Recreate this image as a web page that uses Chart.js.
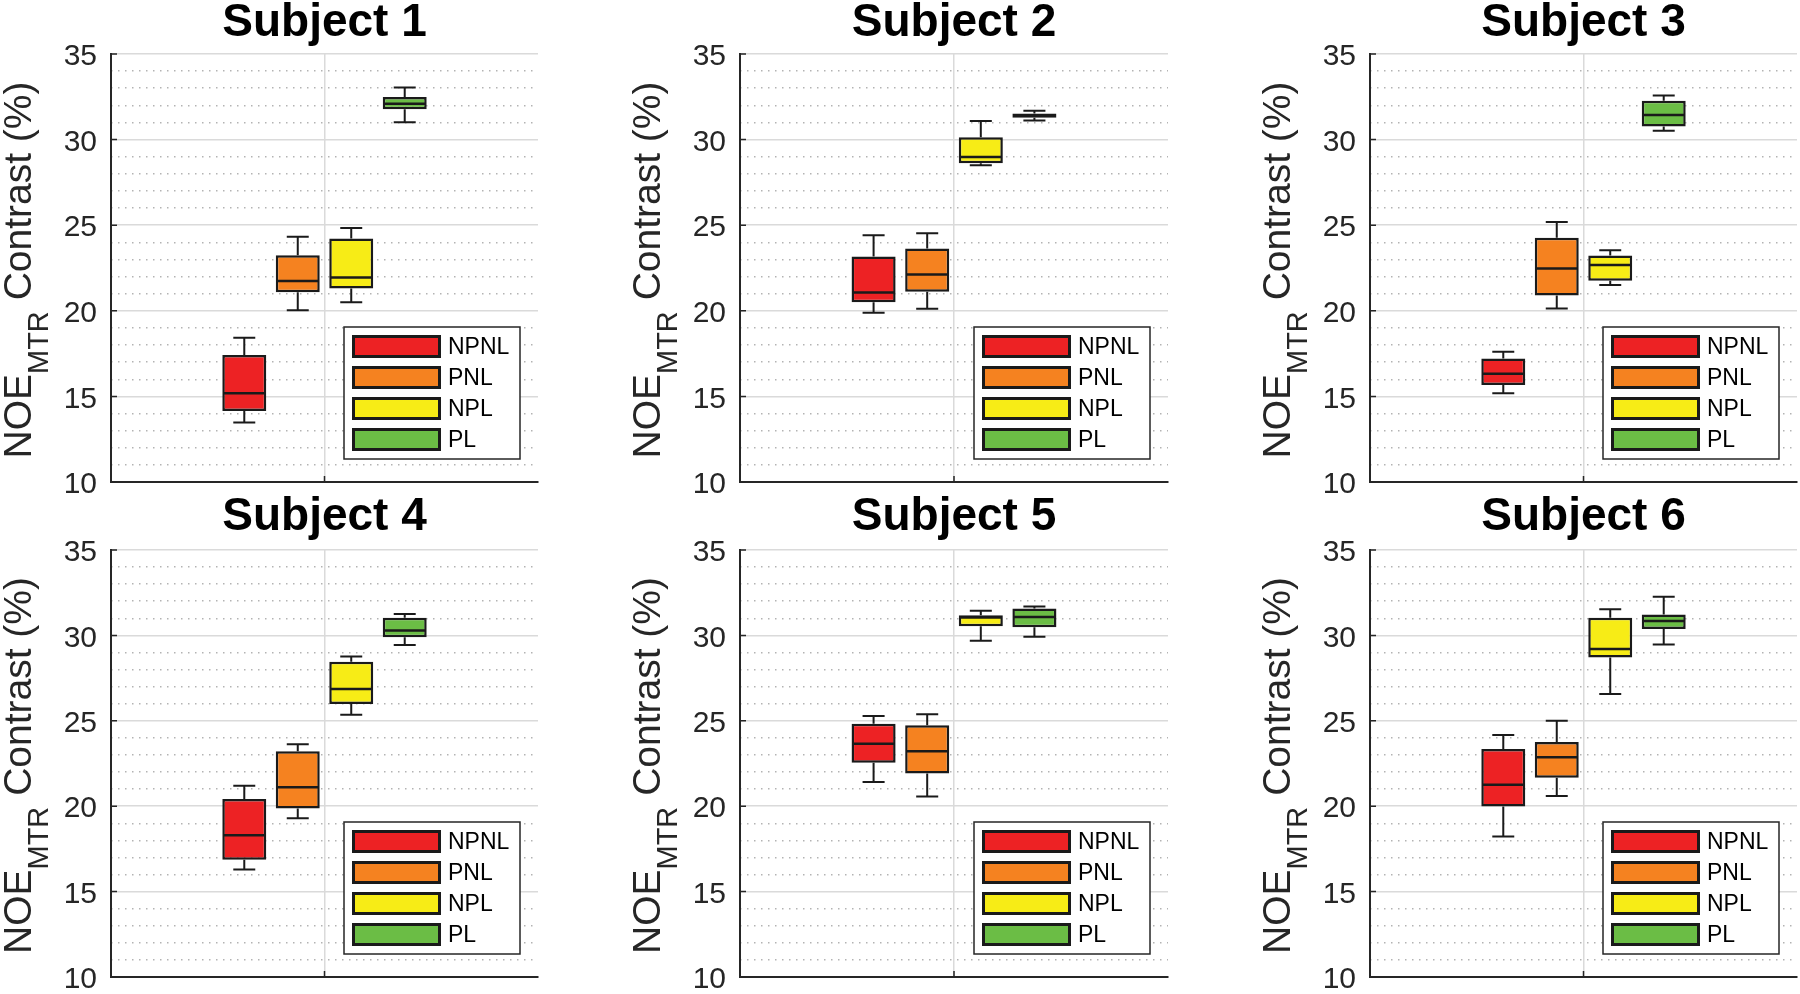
<!DOCTYPE html>
<html><head><meta charset="utf-8">
<script src="https://cdn.jsdelivr.net/npm/chart.js@4.4.1/dist/chart.umd.min.js"></script>
<style>
html,body{margin:0;padding:0;background:#fff;}
#wrap{position:relative;width:1800px;height:994px;overflow:hidden;background:#fff;}
#wrap canvas{position:absolute;}
</style></head><body><div id="wrap"></div>
<script>
// ---------------- data ----------------
const subjects = ['Subject 1', 'Subject 2', 'Subject 3', 'Subject 4', 'Subject 5', 'Subject 6'];
const groups = ['NPNL', 'PNL', 'NPL', 'PL'];
const yMin = 10, yMax = 35, yMajorStep = 5, yMinorStep = 1;
const yTitleMain = 'NOE';
const yTitleSub = 'MTR';
const yTitleRest = ' Contrast (%)';
// rows = subjects, columns = groups (NPNL, PNL, NPL, PL)
const whiskerLow = [
  [13.48, 20.03, 20.50, 31.02],
  [19.88, 20.12, 28.50, 31.11],
  [15.18, 20.13, 21.51, 30.52],
  [16.29, 19.29, 25.36, 29.44],
  [21.41, 20.57, 29.68, 29.92],
  [18.22, 20.60, 26.57, 29.46]
];
const quartile1 = [
  [14.14, 21.08, 21.30, 31.78],
  [20.50, 21.11, 28.62, 31.28],
  [15.67, 20.89, 21.75, 30.77],
  [16.87, 19.86, 25.99, 29.89],
  [22.54, 21.91, 30.54, 30.48],
  [19.98, 21.67, 28.70, 30.38]
];
const medians = [
  [15.18, 21.74, 21.94, 32.10],
  [21.07, 22.12, 28.99, 31.40],
  [16.33, 22.47, 22.68, 31.43],
  [18.30, 21.11, 26.86, 30.28],
  [23.65, 23.22, 31.05, 31.07],
  [21.26, 22.86, 29.20, 30.84]
];
const quartile3 = [
  [17.42, 23.25, 24.22, 32.49],
  [23.17, 23.64, 30.14, 31.52],
  [17.22, 24.26, 23.23, 32.27],
  [20.42, 23.21, 28.45, 31.04],
  [24.83, 24.74, 31.18, 31.57],
  [23.35, 23.76, 31.04, 31.23]
];
const whiskerHigh = [
  [18.43, 24.32, 24.84, 33.05],
  [24.42, 24.53, 31.09, 31.69],
  [17.61, 25.19, 23.54, 32.58],
  [21.20, 23.62, 28.76, 31.25],
  [25.28, 25.38, 31.44, 31.69],
  [24.17, 25.01, 31.53, 32.27]
];

// ---------------- styles / layout ----------------
const groupColors = ['#ED2224', '#F58220', '#F7EC16', '#6BBD45'];
const FONT = "'Liberation Sans', Arial, Helvetica, sans-serif";
const INK = '#1a1a1a';
const AXIS = '#262626';
const colLeft = [0, 600, 1200];
const plotLeft = [111, 740, 1370];
const plotRight = [538, 1168, 1797];
const rowTop = [0, 494];
const rowHeight = [494, 500];
const plotTop = [54, 550];
const plotBottom = [482, 977];
const TITLE_SIZE = 46;
const Y_AXIS_W = 100;

Chart.defaults.font.family = FONT;

const boxPlugin = {
  id: 'boxExtras',
  beforeDatasetsDraw(chart) {
    const ctx = chart.ctx, y = chart.scales.y;
    ctx.save();
    ctx.strokeStyle = INK; ctx.lineWidth = 2;
    chart.data.datasets.forEach((ds, j) => {
      const bar = chart.getDatasetMeta(j).data[0];
      const {x, width} = bar.getProps(['x', 'width'], true);
      const [lo, hi] = ds.whiskers;
      const [b0, b1] = ds.data[0];
      const yl = y.getPixelForValue(lo), yh = y.getPixelForValue(hi);
      const yb0 = y.getPixelForValue(b0), yb1 = y.getPixelForValue(b1);
      const cw = width / 4;
      ctx.beginPath();
      ctx.moveTo(x, yb1); ctx.lineTo(x, yh);
      ctx.moveTo(x - cw, yh); ctx.lineTo(x + cw, yh);
      ctx.moveTo(x, yb0); ctx.lineTo(x, yl);
      ctx.moveTo(x - cw, yl); ctx.lineTo(x + cw, yl);
      ctx.stroke();
    });
    ctx.restore();
  },
  afterDatasetsDraw(chart) {
    const ctx = chart.ctx, y = chart.scales.y;
    ctx.save();
    ctx.strokeStyle = INK; ctx.lineWidth = 2.5;
    chart.data.datasets.forEach((ds, j) => {
      const bar = chart.getDatasetMeta(j).data[0];
      const {x, width} = bar.getProps(['x', 'width'], true);
      const ym = y.getPixelForValue(ds.median);
      ctx.beginPath();
      ctx.moveTo(x - width / 2 + 1, ym); ctx.lineTo(x + width / 2 - 1, ym);
      ctx.stroke();
    });
    ctx.restore();
  },
  afterDraw(chart) {
    const ctx = chart.ctx, a = chart.chartArea, y = chart.scales.y, xs = chart.scales.x;
    ctx.save();
    // inward tick marks
    ctx.strokeStyle = AXIS; ctx.lineWidth = 1.5;
    ctx.beginPath();
    y.ticks.forEach(t => {
      const py = y.getPixelForValue(t.value);
      ctx.moveTo(a.left, py); ctx.lineTo(a.left + 6, py);
    });
    const cx = xs.getPixelForTick(0);
    ctx.moveTo(cx, a.bottom); ctx.lineTo(cx, a.bottom - 6);
    ctx.stroke();

    // legend box (bottom-right inside the axes)
    const lw = 176, lh = 132;
    const lx = a.right - 18 - lw, ly = a.bottom - 23 - lh;
    ctx.fillStyle = '#fff';
    ctx.fillRect(lx, ly, lw, lh);
    ctx.strokeStyle = AXIS; ctx.lineWidth = 1.5;
    ctx.strokeRect(lx, ly, lw, lh);
    ctx.font = '23px ' + FONT;
    ctx.textBaseline = 'middle'; ctx.textAlign = 'left';
    chart.data.datasets.forEach((ds, j) => {
      const sx = lx + 8, sy = ly + 8 + j * 31;
      ctx.fillStyle = ds.backgroundColor;
      ctx.fillRect(sx + 1.5, sy + 1.5, 86, 20);
      ctx.strokeStyle = INK; ctx.lineWidth = 3;
      ctx.strokeRect(sx + 1.5, sy + 1.5, 86, 20);
      ctx.fillStyle = '#000';
      ctx.fillText(ds.label, lx + 104, sy + 12.5);
    });

    // y axis title with subscript
    const mainFont = '39px ' + FONT, subFont = '29px ' + FONT;
    ctx.font = mainFont; const w1 = ctx.measureText(yTitleMain).width;
    const w3 = ctx.measureText(yTitleRest).width;
    ctx.font = subFont; const w2 = ctx.measureText(yTitleSub).width;
    const total = w1 + w2 + w3;
    ctx.translate(a.left - 80, (a.top + a.bottom) / 2 + 2);
    ctx.rotate(-Math.PI / 2);
    ctx.fillStyle = AXIS;
    ctx.textBaseline = 'alphabetic';
    let px = -total / 2;
    ctx.font = mainFont; ctx.fillText(yTitleMain, px, 0); px += w1;
    ctx.font = subFont; ctx.fillText(yTitleSub, px, 17); px += w2;
    ctx.font = mainFont; ctx.fillText(yTitleRest, px, 0);
    ctx.restore();
  }
};

const wrap = document.getElementById('wrap');
subjects.forEach((name, i) => {
  const r = Math.floor(i / 3), c = i % 3;
  const cv = document.createElement('canvas');
  cv.width = 600; cv.height = rowHeight[r];
  cv.style.left = colLeft[c] + 'px';
  cv.style.top = rowTop[r] + 'px';
  cv.style.width = '600px'; cv.style.height = rowHeight[r] + 'px';
  wrap.appendChild(cv);

  const datasets = groups.map((g, j) => ({
    label: g,
    data: [[quartile1[i][j], quartile3[i][j]]],
    whiskers: [whiskerLow[i][j], whiskerHigh[i][j]],
    median: medians[i][j],
    backgroundColor: groupColors[j],
    borderColor: INK,
    borderWidth: 2.5,
    borderSkipped: false,
    categoryPercentage: 0.501,
    barPercentage: 0.822
  }));

  new Chart(cv, {
    type: 'bar',
    data: {labels: [name], datasets},
    plugins: [boxPlugin],
    options: {
      responsive: false,
      animation: false,
      devicePixelRatio: 1,
      layout: {padding: {
        left: plotLeft[c] - colLeft[c] - Y_AXIS_W,
        right: colLeft[c] + 600 - plotRight[c],
        top: 0,
        bottom: rowTop[r] + rowHeight[r] - plotBottom[r]
      }},
      plugins: {
        legend: {display: false},
        tooltip: {enabled: false},
        title: {
          display: true, text: name, color: '#000', fullSize: false,
          font: {size: TITLE_SIZE, weight: 'bold', lineHeight: 1, family: FONT},
          padding: {top: 0, bottom: plotTop[r] - rowTop[r] - TITLE_SIZE}
        }
      },
      scales: {
        x: {
          type: 'category',
          offset: true,
          ticks: {display: false},
          grid: {offset: false, color: '#dadada', lineWidth: 1.5, drawTicks: false},
          border: {color: AXIS, width: 2},
          afterFit: s => { s.height = 0; }
        },
        y: {
          type: 'linear', position: 'left', min: yMin, max: yMax,
          ticks: {stepSize: yMajorStep, font: {size: 30, family: FONT}, color: AXIS, padding: 14, autoSkip: false, labelOffset: 3},
          grid: {color: '#dadada', lineWidth: 1.5, drawTicks: false},
          border: {color: AXIS, width: 2},
          afterFit: s => { s.width = Y_AXIS_W; s.paddingTop = 0; s.paddingBottom = 0; }
        },
        yMinor: {
          type: 'linear', position: 'right', min: yMin, max: yMax,
          ticks: {display: false, stepSize: yMinorStep},
          grid: {
            color: ctx => (ctx.tick && ctx.tick.value % yMajorStep === 0) ? 'rgba(0,0,0,0)' : '#b3b3b3',
            lineWidth: 1.5, drawTicks: false
          },
          border: {display: false, dash: [1.5, 5.5]},
          afterFit: s => { s.width = 0; s.paddingTop = 0; s.paddingBottom = 0; }
        }
      }
    }
  });
});
</script>
</body></html>
